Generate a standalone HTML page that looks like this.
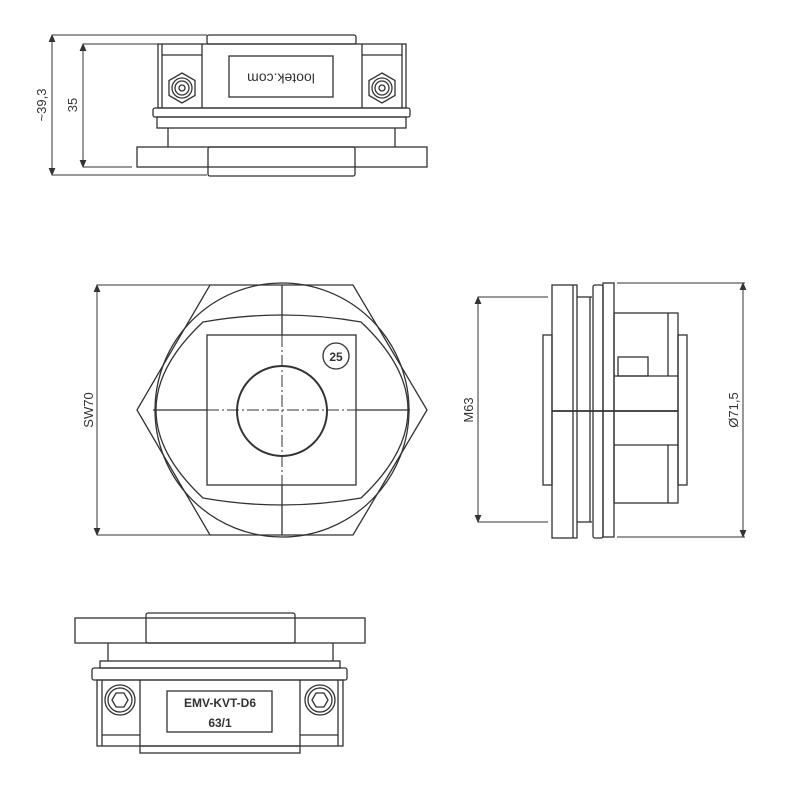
<!DOCTYPE html>
<html><head><meta charset="utf-8"><style>html,body{margin:0;padding:0;background:#fff}svg{display:block}</style></head>
<body>
<svg width="800" height="810" viewBox="0 0 800 810" xmlns="http://www.w3.org/2000/svg" font-family="Liberation Sans, sans-serif">
<g fill="none" stroke="#333" stroke-width="1.3">
<!-- TOP VIEW -->
<line x1="52" y1="35" x2="207" y2="35" stroke-width="1"/>
<line x1="52" y1="175" x2="207" y2="175" stroke-width="1"/>
<line x1="52" y1="37" x2="52" y2="173" stroke-width="1"/>
<line x1="83" y1="44" x2="158" y2="44" stroke-width="1"/>
<line x1="83" y1="167" x2="132" y2="167" stroke-width="1"/>
<line x1="83" y1="46" x2="83" y2="165" stroke-width="1"/>
<path d="M49,42 L52,35 L55,42 M49,168 L52,175 L55,168 M80,51 L83,44 L86,51 M80,160 L83,167 L86,160" fill="#333" stroke-width="0.8"/>
<rect x="207" y="35" width="149" height="9" rx="2"/>
<rect x="158" y="44" width="248" height="64"/>
<line x1="162" y1="44" x2="162" y2="108"/><line x1="202" y1="44" x2="202" y2="108"/>
<line x1="362" y1="44" x2="362" y2="108"/><line x1="402" y1="44" x2="402" y2="108"/>
<line x1="162" y1="55" x2="202" y2="55"/><line x1="362" y1="55" x2="402" y2="55"/>
<rect x="229" y="56" width="104" height="41"/>
<g transform="translate(182,88)"><polygon points="0,-15 13,-7.5 13,7.5 0,15 -13,7.5 -13,-7.5"/><circle r="10"/><circle r="7"/><circle r="3"/></g>
<g transform="translate(382,88)"><polygon points="0,-15 13,-7.5 13,7.5 0,15 -13,7.5 -13,-7.5"/><circle r="10"/><circle r="7"/><circle r="3"/></g>
<rect x="153" y="108" width="257" height="9" rx="2"/>
<rect x="157" y="117" width="249" height="11"/>
<line x1="168" y1="128" x2="168" y2="147"/><line x1="395" y1="128" x2="395" y2="147"/>
<rect x="137" y="147" width="290" height="20"/>
<rect x="208" y="147" width="147" height="29" rx="2"/>
<!-- HEX VIEW -->
<line x1="97" y1="285" x2="210" y2="285" stroke-width="1"/>
<line x1="97" y1="535" x2="210" y2="535" stroke-width="1"/>
<line x1="97" y1="287" x2="97" y2="533" stroke-width="1"/>
<path d="M94,292 L97,285 L100,292 M94,528 L97,535 L100,528" fill="#333" stroke-width="0.8"/>
<polygon points="210,285 353,285 427,410 353,535 210,535 137,410"/>
<circle cx="282" cy="410" r="127"/>
<path d="M203,322 Q282,308 361,322 Q455,410 361,498 Q282,512 203,498 Q109,410 203,322 Z"/>
<rect x="207" y="335" width="149" height="150"/>
<circle cx="282" cy="411" r="45" stroke-width="2"/>
<circle cx="336" cy="356" r="13"/>
<line x1="153" y1="410" x2="207" y2="410"/><line x1="356" y1="410" x2="410" y2="410"/>
<line x1="207" y1="410" x2="356" y2="410" stroke-dasharray="12,3,2,3" stroke-width="1"/>
<line x1="282" y1="285" x2="282" y2="335"/><line x1="282" y1="485" x2="282" y2="535"/>
<line x1="282" y1="335" x2="282" y2="485" stroke-dasharray="12,3,2,3" stroke-width="1"/>
<!-- SIDE VIEW -->
<line x1="478" y1="297" x2="548" y2="297" stroke-width="1"/>
<line x1="478" y1="522" x2="548" y2="522" stroke-width="1"/>
<line x1="478" y1="299" x2="478" y2="520" stroke-width="1"/>
<path d="M475,304 L478,297 L481,304 M475,515 L478,522 L481,515" fill="#333" stroke-width="0.8"/>
<line x1="617" y1="283" x2="745" y2="283" stroke-width="1"/>
<line x1="617" y1="537" x2="745" y2="537" stroke-width="1"/>
<line x1="743" y1="285" x2="743" y2="535" stroke-width="1"/>
<path d="M740,290 L743,283 L746,290 M740,530 L743,537 L746,530" fill="#333" stroke-width="0.8"/>
<rect x="543" y="335" width="9" height="150"/>
<rect x="552" y="285" width="25" height="253"/>
<line x1="573" y1="285" x2="573" y2="538"/>
<line x1="577" y1="297" x2="592" y2="297"/><line x1="577" y1="522" x2="592" y2="522"/>
<line x1="590" y1="297" x2="590" y2="522"/>
<rect x="593" y="285" width="10" height="253" rx="2"/>
<rect x="603" y="283" width="11" height="254"/>
<rect x="614" y="313" width="64" height="190"/>
<line x1="614" y1="376" x2="678" y2="376"/><line x1="614" y1="445" x2="678" y2="445"/>
<line x1="668" y1="313" x2="668" y2="376"/><line x1="668" y1="445" x2="668" y2="503"/>
<rect x="618" y="357" width="30" height="19"/>
<rect x="678" y="335" width="9" height="150"/>
<line x1="552" y1="411" x2="678" y2="411" stroke-width="1.8"/>
<!-- BOTTOM VIEW -->
<rect x="75" y="618" width="290" height="25"/>
<rect x="146" y="613" width="149" height="30" rx="2"/>
<line x1="108" y1="643" x2="108" y2="661"/><line x1="333" y1="643" x2="333" y2="661"/>
<rect x="100" y="661" width="240" height="7"/>
<rect x="92" y="668" width="255" height="12" rx="2"/>
<rect x="97" y="680" width="246" height="66"/>
<line x1="102" y1="680" x2="102" y2="746"/><line x1="140" y1="680" x2="140" y2="746"/>
<line x1="300" y1="680" x2="300" y2="746"/><line x1="338" y1="680" x2="338" y2="746"/>
<line x1="102" y1="735" x2="140" y2="735"/><line x1="300" y1="735" x2="338" y2="735"/>
<rect x="140" y="746" width="160" height="7"/>
<rect x="167" y="691" width="105" height="41"/>
<g transform="translate(120,700)"><circle r="15"/><circle r="12"/><polygon points="-8,0 -4,-7 4,-7 8,0 4,7 -4,7"/></g>
<g transform="translate(320,700)"><circle r="15"/><circle r="12"/><polygon points="-8,0 -4,-7 4,-7 8,0 4,7 -4,7"/></g>
</g>
<g fill="#333" font-size="13">
<text transform="translate(46,105) rotate(-90)" text-anchor="middle">~39,3</text>
<text transform="translate(77,105) rotate(-90)" text-anchor="middle">35</text>
<text transform="translate(93,410) rotate(-90)" text-anchor="middle">SW70</text>
<text transform="translate(473,410) rotate(-90)" text-anchor="middle">M63</text>
<text transform="translate(738,410) rotate(-90)" text-anchor="middle">Ø71,5</text>
<text transform="translate(281,77) rotate(180)" text-anchor="middle" dominant-baseline="middle" font-size="14">lootek.com</text>
<text x="336" y="361" text-anchor="middle" font-size="12" font-weight="bold">25</text>
<text x="220" y="707" text-anchor="middle" font-size="12" font-weight="bold">EMV-KVT-D6</text>
<text x="220" y="727" text-anchor="middle" font-size="12" font-weight="bold">63/1</text>
</g>
</svg>
</body></html>
